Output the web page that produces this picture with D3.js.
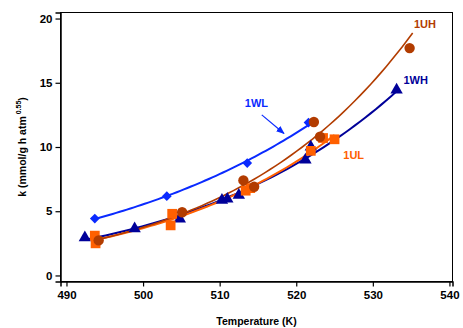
<!DOCTYPE html>
<html>
<head>
<meta charset="utf-8">
<script src="https://cdn.jsdelivr.net/npm/d3@7"></script>
<style>
  html, body { margin: 0; padding: 0; background: #fff; }
  svg { display: block; }
  text { font-family: "Liberation Sans", Arial, sans-serif; }
</style>
</head>
<body>
<svg id="chart" width="463" height="328"></svg>
<script>
// Rate constant k versus temperature for four catalyst samples
const seriesNames = ["1WH", "1WL", "1UL", "1UH"];

const tempWH = [492.4, 498.9, 504.8, 510.3, 511.0, 512.5, 521.2, 521.9, 533.1];
const kWH    = [2.95, 3.65, 4.4, 5.86, 5.95, 6.25, 9.0, 10.0, 14.45];

const tempWL = [493.7, 503.1, 513.6, 521.6];
const kWL    = [4.43, 6.17, 8.75, 11.9];

const tempUL = [493.7, 493.8, 503.6, 503.8, 513.4, 514.0, 521.9, 523.5, 525.0];
const kUL    = [3.1, 2.5, 3.9, 4.8, 6.6, 6.8, 9.7, 10.7, 10.6];

const tempUH = [494.2, 505.1, 513.1, 514.5, 522.3, 523.1, 534.8];
const kUH    = [2.73, 4.92, 7.4, 6.9, 11.95, 10.8, 17.7];

// Temperature span covered by each Arrhenius fit line
const fitFrom = [492.4, 493.7, 493.7, 493.9];
const fitTo   = [533.1, 521.6, 525.0, 535.2];

const xTicks = [490, 500, 510, 520, 530, 540];
const yTicks = [0, 5, 10, 15, 20];

const series = [
  { name: "1WH", t: tempWH, k: kWH, color: "#000099", symbol: d3.symbolTriangle, size: 66, rot: 0, lw: 2 },
  { name: "1WL", t: tempWL, k: kWL, color: "#0a2aff", symbol: d3.symbolSquare, size: 48, rot: 45, lw: 2 },
  { name: "1UL", t: tempUL, k: kUL, color: "#ff6000", symbol: d3.symbolSquare, size: 95, rot: 0, lw: 2 },
  { name: "1UH", t: tempUH, k: kUH, color: "#b23c00", symbol: d3.symbolCircle, size: 85, rot: 0, lw: 1.6 }
];

const svg = d3.select("#chart");
const frame = { left: 60.5, right: 452.5, top: 12.5, bottom: 281.5 };

const x = d3.scaleLinear().domain([489.22, 540.4]).range([frame.left, frame.right]);
const y = d3.scaleLinear().domain([-0.47, 20.47]).range([frame.bottom, frame.top]);

// plot frame
svg.append("rect")
  .attr("x", frame.left).attr("y", frame.top)
  .attr("width", frame.right - frame.left).attr("height", frame.bottom - frame.top)
  .attr("fill", "none").attr("stroke", "#000").attr("stroke-width", 1);

// axes
const xAxis = d3.axisBottom(x).tickValues(xTicks).tickSize(5).tickPadding(4).tickFormat(d3.format("d"));
const gx = svg.append("g").attr("transform", `translate(0,${frame.bottom})`).call(xAxis);
gx.select(".domain").attr("stroke-width", 1.5);

const yAxis = d3.axisLeft(y).tickValues(yTicks).tickSize(5).tickPadding(3).tickFormat(d3.format("d"));
const gy = svg.append("g").attr("transform", `translate(${frame.left},0)`).call(yAxis);
gy.select(".domain").attr("stroke-width", 1.5);

svg.selectAll(".tick text")
  .attr("font-family", "Liberation Sans, Arial, sans-serif")
  .attr("font-size", 11.5).attr("font-weight", "bold").attr("fill", "#000");
svg.selectAll(".tick line").attr("stroke", "#000").attr("stroke-width", 1.2);

// axis titles
svg.append("text")
  .attr("x", (frame.left + frame.right) / 2).attr("y", 325)
  .attr("text-anchor", "middle").attr("font-size", 10.5).attr("font-weight", "bold")
  .text("Temperature (K)");

const yt = svg.append("text")
  .attr("transform", `translate(26,147) rotate(-90)`)
  .attr("text-anchor", "middle").attr("font-size", 10.5).attr("font-weight", "bold");
yt.append("tspan").text("k (mmol/g h atm");
yt.append("tspan").attr("font-size", 7).attr("dy", -5).text(" 0.55");
yt.append("tspan").attr("dy", 5).text(")");

// Arrhenius fit: ln k = a + b / T
function arrheniusFit(ts, ks) {
  const xs = ts.map(t => 1 / t), ys = ks.map(v => Math.log(v));
  const mx = d3.mean(xs), my = d3.mean(ys);
  const b = d3.sum(xs, (v, i) => (v - mx) * (ys[i] - my)) / d3.sum(xs, v => (v - mx) * (v - mx));
  const a = my - b * mx;
  return t => Math.exp(a + b / t);
}

const line = d3.line().x(d => x(d[0])).y(d => y(d[1])).curve(d3.curveLinear);

series.forEach((s, i) => {
  const f = arrheniusFit(s.t, s.k);
  const t0 = fitFrom[i], t1 = fitTo[i];
  const pts = d3.range(0, 61).map(j => { const t = t0 + (t1 - t0) * j / 60; return [t, f(t)]; });
  svg.append("path").datum(pts)
    .attr("d", line).attr("fill", "none")
    .attr("stroke", s.color).attr("stroke-width", s.lw);
});

series.forEach(s => {
  svg.append("g").selectAll("path")
    .data(s.t.map((t, i) => [t, s.k[i]]))
    .join("path")
    .attr("transform", d => `translate(${x(d[0])},${y(d[1])}) rotate(${s.rot})`)
    .attr("d", d3.symbol().type(s.symbol).size(s.size))
    .attr("fill", s.color);
});

// series labels
const labelPos = { "1UH": [536.8, 19.6], "1WH": [535.6, 15.2], "1WL": [514.8, 13.4], "1UL": [527.5, 9.35] };
series.forEach(s => {
  const p = labelPos[s.name];
  svg.append("text")
    .attr("x", x(p[0])).attr("y", y(p[1])).attr("dy", "0.35em")
    .attr("text-anchor", "middle").attr("font-size", 11).attr("font-weight", "bold")
    .attr("fill", s.color).text(s.name);
});

// arrow pointing from the 1WL label to its curve
svg.append("defs").append("marker")
  .attr("id", "arrowhead").attr("viewBox", "0 0 10 10").attr("refX", 9).attr("refY", 5)
  .attr("markerWidth", 7).attr("markerHeight", 7).attr("orient", "auto")
  .append("path").attr("d", "M0,1 L10,5 L0,9 Z").attr("fill", "#0a2aff");
svg.append("line")
  .attr("x1", x(515.5)).attr("y1", y(12.5)).attr("x2", x(518.4)).attr("y2", y(11.05))
  .attr("stroke", "#0a2aff").attr("stroke-width", 1.2).attr("marker-end", "url(#arrowhead)");
</script>
</body>
</html>
